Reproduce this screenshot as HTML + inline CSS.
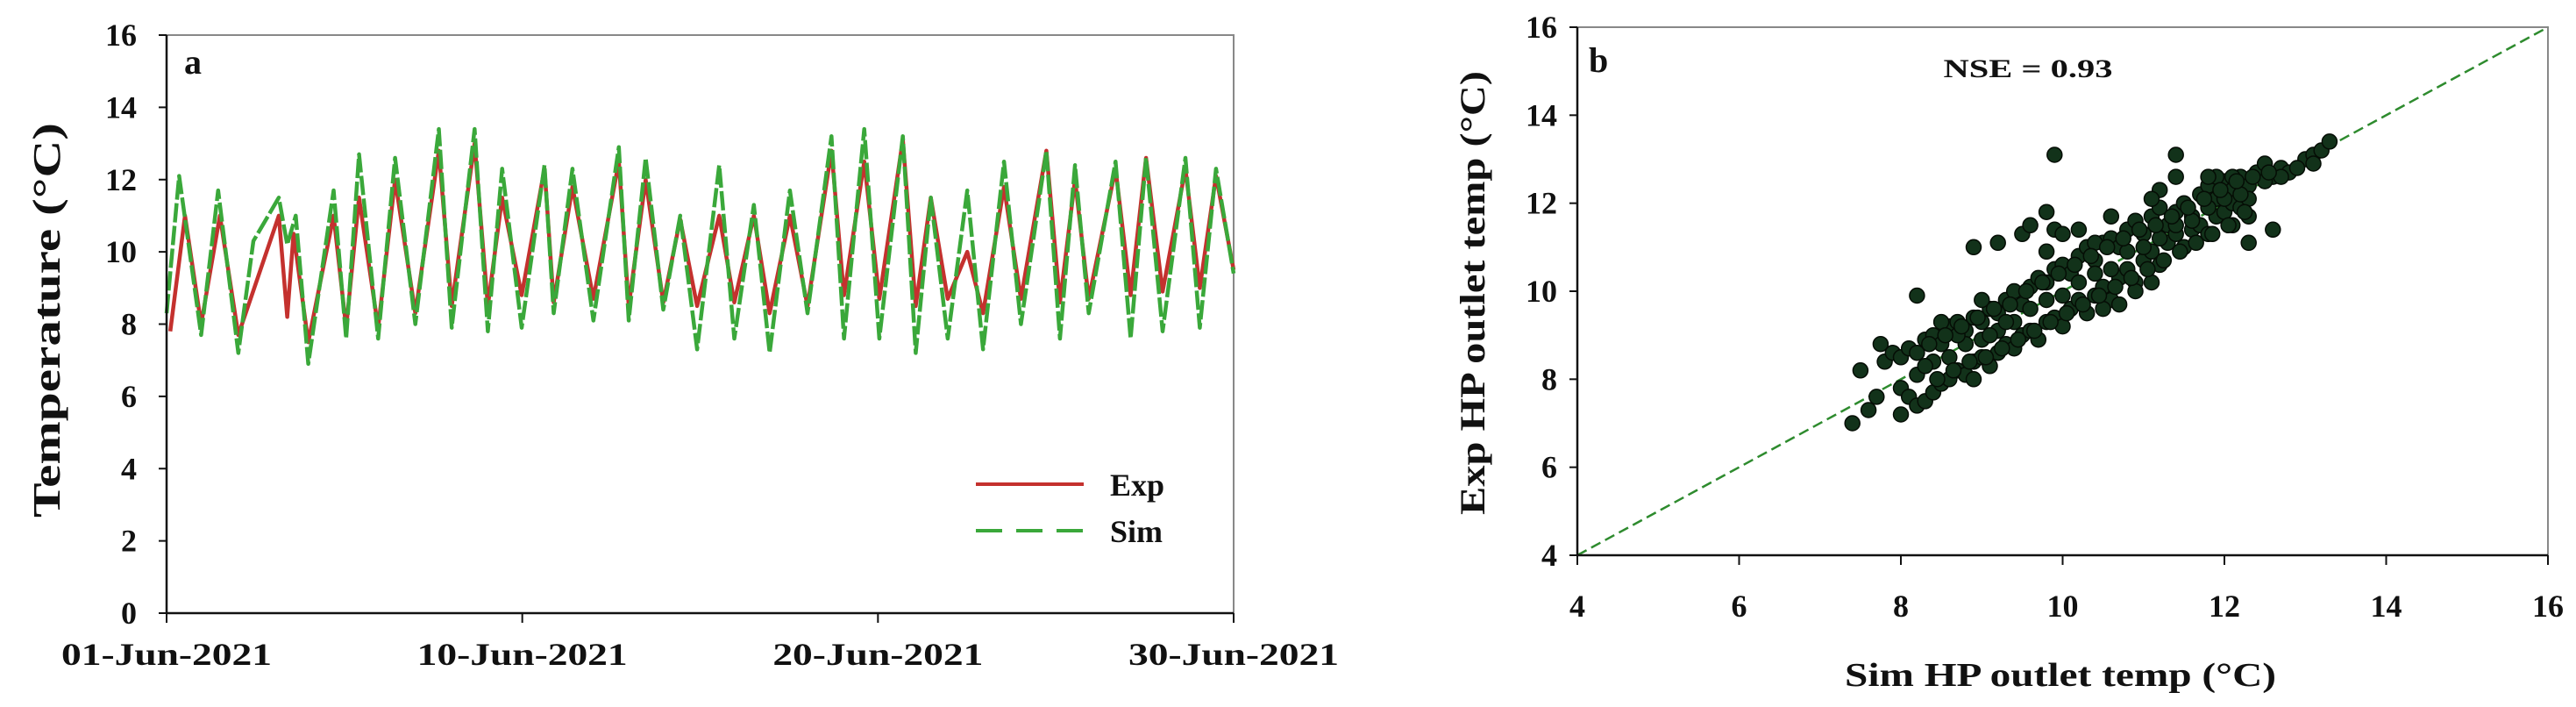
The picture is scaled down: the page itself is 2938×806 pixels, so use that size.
<!DOCTYPE html>
<html><head><meta charset="utf-8"><style>
html,body{margin:0;padding:0;background:#fff;}
svg{display:block;}
text{font-family:"Liberation Serif",serif;font-weight:bold;fill:#111;}
</style></head><body>
<svg id="svg" width="2938" height="806" viewBox="0 0 2938 806" xmlns="http://www.w3.org/2000/svg">
<g id="chartA"></g>
<g id="chartB"></g>
</svg>
<script>
// ---------- Chart a data ----------
const yTicksA = [0, 2, 4, 6, 8, 10, 12, 14, 16];
const xTickLabelsA = ["01-Jun-2021", "10-Jun-2021", "20-Jun-2021", "30-Jun-2021"];
const simDays = [0,0.34,0.94,1.40,1.95,2.36,3.05,3.28,3.51,3.85,4.54,4.88,5.23,5.75,6.21,6.76,7.40,7.75,8.37,8.73,9.12,9.65,10.27,10.52,11.03,11.60,12.29,12.56,13.02,13.50,13.96,14.42,15.02,15.43,15.96,16.39,16.94,17.42,18.07,18.41,18.96,19.37,20.01,20.36,20.77,21.23,21.76,22.19,22.76,23.22,23.91,24.28,24.69,25.06,25.79,26.20,26.62,27.07,27.69,28.08,28.52,29.00];
const simTemps = [8.3,12.1,7.7,11.7,7.2,10.3,11.5,10.2,11.0,6.9,11.7,7.6,12.7,7.6,12.6,8.0,13.4,7.9,13.4,7.8,12.3,7.9,12.4,8.3,12.3,8.1,12.9,8.1,12.6,8.4,11.0,7.3,12.4,7.6,11.3,7.2,11.7,8.3,13.2,7.6,13.4,7.6,13.2,7.2,11.5,7.6,11.7,7.3,12.5,8.0,12.8,7.6,12.4,8.3,12.5,7.6,12.6,7.8,12.6,7.9,12.3,9.4];
const expDays = [0.1,0.5,0.94,1.45,1.95,3.05,3.28,3.45,3.85,4.54,4.88,5.23,5.75,6.21,6.76,7.40,7.75,8.37,8.73,9.12,9.65,10.27,10.52,11.03,11.60,12.29,12.56,13.02,13.50,13.96,14.42,15.02,15.43,15.96,16.39,16.94,17.42,18.07,18.41,18.96,19.37,20.01,20.36,20.77,21.23,21.76,22.19,22.76,23.22,23.91,24.28,24.69,25.06,25.79,26.20,26.62,27.07,27.69,28.08,28.52,29.00];
const expTemps = [7.8,11.0,8.0,11.0,7.7,11.0,8.2,10.5,7.5,11.0,7.9,11.5,7.9,12.0,8.3,12.8,8.5,13.0,8.5,11.5,8.8,12.3,8.6,11.8,8.7,12.5,8.5,12.0,8.6,10.9,8.5,11.0,8.6,11.0,8.3,11.0,8.5,12.8,8.8,12.5,8.7,13.1,8.5,11.5,8.7,10.0,8.3,11.8,8.7,12.8,8.6,12.0,8.7,12.3,8.8,12.6,8.9,12.3,9.0,12.1,9.5];

// ---------- Chart b data ----------
const ticksB = [4, 6, 8, 10, 12, 14, 16];
const simX = [9.9,11.4,8.2,8.9,9.2,9.5,9.6,9.8,9.9,10.0,10.2,9.8,12.3,12.6,12.3,12.1,7.4,7.5,7.6,7.7,7.75,8.0,11.4,
7.8,7.9,8.0,8.1,8.2,8.3,8.4,8.5,8.6,8.7,8.8,8.9,9.0,9.1,9.2,9.3,9.4,9.5,9.6,9.7,9.8,9.9,10.0,10.1,10.2,10.3,10.4,10.5,10.6,10.7,10.8,10.9,11.0,11.1,11.2,11.3,11.4,11.5,11.6,11.7,11.8,11.9,12.0,12.1,12.2,12.3,12.4,12.5,12.6,12.7,12.8,13.0,13.1,13.2,13.3,13.1,12.9,
8.0,8.1,8.2,8.3,8.4,8.5,8.6,8.7,8.8,8.9,9.0,9.1,9.2,9.3,9.4,9.5,9.6,9.7,9.8,9.9,10.0,10.1,10.2,10.3,10.4,10.5,10.6,10.7,10.8,10.9,11.0,11.1,11.2,11.3,11.4,11.5,11.6,11.7,11.8,11.9,12.0,12.1,12.2,12.3,
8.2,8.4,8.6,8.8,9.0,9.2,9.4,9.6,9.8,10.0,10.2,10.4,10.6,10.8,11.0,11.2,11.4,11.6,11.8,12.0,12.2,8.5,8.7,9.0,9.3,8.3,8.9,9.1,10.9,11.1,10.7,10.5,12.5,12.7,11.9,11.8,12.1,11.2,11.1,10.6,10.4,
8.35,8.55,8.75,8.95,9.15,9.35,9.55,9.75,9.95,10.15,10.35,10.55,10.75,10.95,11.15,11.35,11.55,11.75,11.95,12.15,12.35,12.55,
8.45,8.65,8.85,9.05,9.25,9.45,9.65,9.85,10.05,10.25,10.45,10.65,10.85,11.05,11.25,11.45,11.65,11.85,12.05,12.25];
const expY = [13.1,13.1,9.9,11.0,11.1,11.3,11.5,11.8,11.4,11.3,11.4,10.9,11.1,11.4,11.7,11.5,7.0,8.2,7.3,7.6,8.8,7.2,12.6,
8.4,8.6,8.5,8.7,8.6,8.9,9.0,8.8,9.2,9.3,9.1,9.4,9.3,9.6,9.5,9.8,10.0,9.7,10.1,10.3,10.2,10.5,10.6,10.4,10.8,11.0,10.7,11.1,11.2,11.0,11.4,11.6,11.3,11.7,11.9,11.5,11.8,12.0,11.7,12.2,12.4,12.1,12.5,12.3,12.6,12.4,12.7,12.9,12.6,12.8,12.7,13.0,13.1,13.2,13.4,12.9,12.8,
7.8,7.6,7.4,7.5,7.7,7.9,8.0,8.2,8.1,8.4,8.5,8.3,8.6,8.8,8.7,9.0,9.1,8.9,9.3,9.4,9.2,9.6,9.8,9.5,9.9,10.1,9.8,10.3,10.5,10.2,10.7,10.9,10.6,11.1,11.3,11.0,11.4,11.5,11.3,11.7,11.8,12.0,11.9,12.1,
8.1,8.4,8.5,8.8,8.9,9.1,9.3,9.6,9.8,9.9,10.2,10.4,10.5,10.9,11.0,11.2,11.5,11.6,11.9,12.1,12.2,9.3,9.0,9.8,9.3,8.3,8.0,9.0,10.0,10.2,9.7,9.6,12.5,12.6,12.6,12.6,12.6,12.3,12.1,11.7,11.1,
8.8,9.0,9.2,9.4,9.6,9.7,10.0,10.2,10.4,10.6,10.8,11.0,11.2,11.4,11.5,11.7,11.9,12.1,12.3,12.5,12.6,12.7,
8.0,8.2,8.4,8.5,8.7,8.9,9.1,9.3,9.5,9.7,9.9,10.1,10.3,10.5,10.7,10.9,11.1,11.3,11.5,11.8];

const NS = "http://www.w3.org/2000/svg";
function mk(parent, tag, attrs, txt) {
  const el = document.createElementNS(NS, tag);
  for (const k in attrs) el.setAttribute(k, attrs[k]);
  if (txt !== undefined) el.textContent = txt;
  parent.appendChild(el);
  return el;
}

// ---------- Chart a ----------
const A = document.getElementById('chartA');
const aL = 190, aR = 1407, aT = 40, aB = 699;
const ax = d => aL + d / 29 * (aR - aL);
const ay = v => aB - v / 16 * (aB - aT);

let fr = mk(A, 'path', {d: `M${aL} ${aT} H${aR} V${aB}`, fill: 'none', stroke: '#888', 'stroke-width': 2});



yTicksA.forEach(v => {
  const t = mk(A, 'line', {x1: aL - 9, x2: aL, y1: ay(v), y2: ay(v), stroke: '#111', 'stroke-width': 2});
  
  
  const l = mk(A, 'text', {x: 156, y: ay(v) + 12, 'font-size': 36, 'text-anchor': 'end'}, String(v));
  
  
});
xTickLabelsA.forEach((s, i) => {
  const x = aL + i * (aR - aL) / 3;
  const t = mk(A, 'line', {x1: x, x2: x, y1: aB, y2: aB + 11, stroke: '#111', 'stroke-width': 2});
  
  
  const l = mk(A, 'text', {x: x, y: 758, 'font-size': 36, 'text-anchor': 'middle', textLength: 240, lengthAdjust: 'spacingAndGlyphs'}, s);
  
  
});

const expPath = mk(A, 'path', {d: expDays.map((d, i) => (i ? 'L' : 'M') + ax(d).toFixed(1) + ' ' + ay(expTemps[i]).toFixed(1)).join(' '), fill: 'none', stroke: '#c4312e', 'stroke-width': 4.5, 'stroke-linejoin': 'round'});


const simPath = mk(A, 'path', {d: simDays.map((d, i) => (i ? 'L' : 'M') + ax(d).toFixed(1) + ' ' + ay(simTemps[i]).toFixed(1)).join(' '), fill: 'none', stroke: '#3aa83a', 'stroke-width': 4.5, 'stroke-dasharray': '22 4', 'stroke-linejoin': 'round'});



let ln = mk(A, 'line', {x1: aL, x2: aL, y1: aT, y2: aB, stroke: '#111', 'stroke-width': 2.5});


ln = mk(A, 'line', {x1: aL, x2: aR, y1: aB, y2: aB, stroke: '#111', 'stroke-width': 2.5});



let tx = mk(A, 'text', {x: 53, y: 365, 'font-size': 44, 'text-anchor': 'middle', transform: 'rotate(-90 53 365)', dy: 15, textLength: 450, lengthAdjust: 'spacingAndGlyphs'}, 'Temperature (°C)');


tx = mk(A, 'text', {x: 210, y: 84, 'font-size': 40}, 'a');



ln = mk(A, 'line', {x1: 1113, x2: 1236, y1: 552, y2: 552, stroke: '#c4312e', 'stroke-width': 4});


tx = mk(A, 'text', {x: 1266, y: 565, 'font-size': 36}, 'Exp');


ln = mk(A, 'line', {x1: 1113, x2: 1236, y1: 605, y2: 605, stroke: '#3aa83a', 'stroke-width': 4, 'stroke-dasharray': '30 16'});


tx = mk(A, 'text', {x: 1266, y: 618, 'font-size': 36}, 'Sim');



// ---------- Chart b ----------
const B = document.getElementById('chartB');
const bL = 1799, bR = 2906, bT = 31, bB = 633;
const bx = v => bL + (v - 4) / 12 * (bR - bL);
const by = v => bB - (v - 4) / 12 * (bB - bT);

fr = mk(B, 'path', {d: `M${bL} ${bT} H${bR} V${bB}`, fill: 'none', stroke: '#888', 'stroke-width': 2});



ticksB.forEach(v => {
  const t = mk(B, 'line', {x1: bL - 9, x2: bL, y1: by(v), y2: by(v), stroke: '#111', 'stroke-width': 2});
  
  
  const l = mk(B, 'text', {x: 1776, y: by(v) + 12, 'font-size': 36, 'text-anchor': 'end'}, String(v));
  
  
  const t2 = mk(B, 'line', {x1: bx(v), x2: bx(v), y1: bB, y2: bB + 11, stroke: '#111', 'stroke-width': 2});
  
  
  const l2 = mk(B, 'text', {x: bx(v), y: 703, 'font-size': 36, 'text-anchor': 'middle'}, String(v));
  
  
});

ln = mk(B, 'line', {x1: bx(4), y1: by(4), x2: bx(16), y2: by(16), stroke: '#2e8b2e', 'stroke-width': 2.5, 'stroke-dasharray': '12 6'});



simX.forEach((s, i) => {
  const c = mk(B, 'circle', {cx: bx(s).toFixed(1), cy: by(expY[i]).toFixed(1), r: 8.5, fill: '#12321a', stroke: '#050d05', 'stroke-width': 1.5});
  
  
});

ln = mk(B, 'line', {x1: bL, x2: bL, y1: bT, y2: bB, stroke: '#111', 'stroke-width': 2.5});


ln = mk(B, 'line', {x1: bL, x2: bR, y1: bB, y2: bB, stroke: '#111', 'stroke-width': 2.5});



tx = mk(B, 'text', {x: 1679, y: 334, 'font-size': 40, 'text-anchor': 'middle', transform: 'rotate(-90 1679 334)', dy: 14, textLength: 506, lengthAdjust: 'spacingAndGlyphs'}, 'Exp HP outlet temp (°C)');


tx = mk(B, 'text', {x: 2350, y: 782, 'font-size': 38, 'text-anchor': 'middle', textLength: 492, lengthAdjust: 'spacingAndGlyphs'}, 'Sim HP outlet temp (°C)');


tx = mk(B, 'text', {x: 1812, y: 82, 'font-size': 40}, 'b');


tx = mk(B, 'text', {x: 2313, y: 88, 'font-size': 30, 'text-anchor': 'middle', textLength: 193, lengthAdjust: 'spacingAndGlyphs'}, 'NSE = 0.93');


</script>
</body></html>
